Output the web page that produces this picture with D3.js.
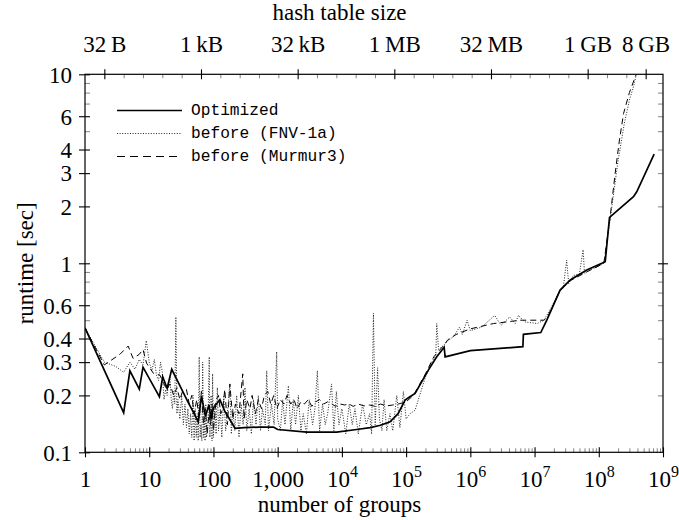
<!DOCTYPE html>
<html><head><meta charset="utf-8">
<script src="https://cdn.jsdelivr.net/npm/d3@7"></script>
<style>
html,body{margin:0;padding:0;background:#fff;}
svg{display:block;}
.serif{font-family:"Liberation Serif","DejaVu Serif",serif;}
.mono{font-family:"Liberation Mono","DejaVu Sans Mono",monospace;}
</style>
</head><body>
<svg id="chart" width="679" height="520"></svg>
<script>
// ---------- DATA ----------
const groupsOptimized = [1, 4, 5, 7, 8, 14.4, 16.2, 19, 22.4, 30, 40, 50, 58, 65, 75, 85, 92, 100, 126, 150, 217, 300, 530, 860, 1000, 2840, 8300, 17000, 27500, 40000, 56300, 75000, 96500, 110000, 138000, 222000, 300000, 391000, 405000, 1000000, 6580000, 6700000, 12500000, 15500000, 25000000, 36000000, 65000000, 126000000, 147000000, 347000000, 390000000, 728000000];
const runtimeOptimized = [0.455, 0.162, 0.27, 0.216, 0.282, 0.197, 0.251, 0.218, 0.275, 0.225, 0.185, 0.16, 0.145, 0.199, 0.155, 0.178, 0.15, 0.172, 0.19, 0.165, 0.134, 0.135, 0.136, 0.136, 0.132, 0.128, 0.128, 0.132, 0.135, 0.139, 0.145, 0.16, 0.189, 0.195, 0.205, 0.272, 0.32, 0.36, 0.32, 0.345, 0.362, 0.421, 0.43, 0.501, 0.722, 0.816, 0.922, 1.02, 1.75, 2.25, 2.39, 3.78];

const groupsFNV = [1, 2, 3, 4, 5, 6, 7, 8, 9, 10, 11, 12, 13, 14, 15, 16, 17, 18, 19, 20, 21, 22, 23, 24, 25, 26, 27, 28, 30, 32, 34, 36, 38, 40, 42, 44, 46, 48, 50, 52, 54, 56, 58, 60, 62, 64, 66, 68, 70, 72, 74, 76, 78, 82, 86, 88, 92, 95, 97, 100, 105, 110, 115, 120, 128, 135, 145, 155, 165, 180, 190, 200, 215, 230, 250, 270, 290, 310, 330, 360, 390, 420, 460, 500, 540, 580, 640, 676, 720, 800, 880, 966, 1000, 1100, 1200, 1300, 1470, 1600, 1750, 1900, 2100, 2300, 2500, 2800, 3100, 3500, 3800, 4150, 4500, 5000, 5500, 6000, 6900, 7500, 8200, 9000, 10000, 11500, 13000, 14500, 16000, 18000, 21000, 24000, 27000, 29000, 31000, 33000, 36000, 38400, 42000, 45400, 50000, 56000, 62000, 71600, 80000, 90800, 100000, 115000, 138000, 170000, 200000, 240000, 290000, 300000, 320000, 390000, 450000, 550000, 680000, 750000, 890000, 1000000, 1500000, 2400000, 3000000, 4100000, 5000000, 5600000, 7000000, 11000000, 14000000, 18000000, 25000000, 28000000, 31600000, 34000000, 40000000, 50000000, 57000000, 60000000, 70000000, 90000000, 120000000, 150000000, 200000000, 250000000, 300000000, 347000000, 390000000];
const runtimeFNV = [0.455, 0.30, 0.285, 0.265, 0.30, 0.275, 0.31, 0.29, 0.39, 0.30, 0.27, 0.31, 0.255, 0.24, 0.30, 0.265, 0.19, 0.215, 0.2, 0.23, 0.25, 0.19, 0.17, 0.21, 0.18, 0.52, 0.16, 0.19, 0.15, 0.2, 0.14, 0.18, 0.135, 0.17, 0.125, 0.16, 0.12, 0.2, 0.115, 0.17, 0.12, 0.16, 0.115, 0.32, 0.12, 0.14, 0.115, 0.3, 0.12, 0.15, 0.115, 0.18, 0.12, 0.14, 0.32, 0.12, 0.2, 0.115, 0.26, 0.12, 0.18, 0.125, 0.22, 0.13, 0.17, 0.12, 0.2, 0.13, 0.16, 0.23, 0.125, 0.17, 0.13, 0.2, 0.12, 0.18, 0.14, 0.22, 0.13, 0.17, 0.125, 0.19, 0.14, 0.2, 0.13, 0.17, 0.14, 0.27, 0.13, 0.18, 0.14, 0.34, 0.15, 0.13, 0.19, 0.14, 0.225, 0.13, 0.19, 0.14, 0.2, 0.13, 0.16, 0.125, 0.19, 0.14, 0.17, 0.27, 0.13, 0.18, 0.14, 0.16, 0.23, 0.13, 0.21, 0.14, 0.17, 0.125, 0.18, 0.14, 0.17, 0.125, 0.18, 0.14, 0.16, 0.125, 0.544, 0.14, 0.28, 0.15, 0.13, 0.19, 0.13, 0.16, 0.13, 0.2, 0.135, 0.21, 0.15, 0.16, 0.167, 0.21, 0.25, 0.29, 0.33, 0.48, 0.35, 0.37, 0.39, 0.41, 0.46, 0.42, 0.5, 0.44, 0.46, 0.53, 0.47, 0.52, 0.48, 0.53, 0.49, 0.48, 0.5, 0.58, 0.72, 0.74, 1.04, 0.78, 0.86, 0.88, 1.18, 0.88, 0.92, 0.95, 1.0, 1.7, 3.5, 5.5, 7.3, 8.6, 10.2];

const groupsMurmur = [1, 2, 3.5, 4.7, 5.6, 7, 8, 9.1, 11.6, 14.7, 16, 18.7, 21, 24, 27, 30, 33, 38, 42, 46, 50, 55, 60, 65, 70, 75, 80, 85, 90, 95, 100, 110, 120, 130, 140, 150, 165, 180, 200, 220, 250, 286, 300, 330, 370, 400, 450, 500, 560, 620, 700, 780, 870, 970, 1100, 1250, 1400, 1600, 1800, 2000, 2300, 2600, 3000, 3400, 3900, 4500, 5200, 6000, 7000, 8000, 9500, 11000, 13000, 15000, 18000, 22000, 27000, 33000, 40000, 50000, 62000, 75000, 90000, 100000, 130000, 200000, 270000, 390000, 450000, 600000, 1000000, 2300000, 6000000, 14000000, 16000000, 25000000, 36000000, 65000000, 120000000, 150000000, 180000000, 210000000, 243000000, 300000000, 370000000, 410000000];
const runtimeMurmur = [0.455, 0.29, 0.33, 0.365, 0.314, 0.33, 0.35, 0.296, 0.262, 0.256, 0.24, 0.215, 0.23, 0.2, 0.22, 0.19, 0.21, 0.215, 0.18, 0.2, 0.16, 0.19, 0.15, 0.21, 0.14, 0.17, 0.125, 0.16, 0.14, 0.18, 0.13, 0.19, 0.2, 0.16, 0.17, 0.215, 0.14, 0.23, 0.15, 0.18, 0.16, 0.26, 0.15, 0.19, 0.17, 0.2, 0.16, 0.19, 0.17, 0.2, 0.21, 0.18, 0.2, 0.17, 0.19, 0.18, 0.2, 0.18, 0.19, 0.17, 0.185, 0.18, 0.19, 0.175, 0.185, 0.19, 0.18, 0.185, 0.18, 0.175, 0.18, 0.178, 0.18, 0.175, 0.18, 0.176, 0.178, 0.175, 0.18, 0.176, 0.178, 0.18, 0.183, 0.185, 0.2, 0.26, 0.32, 0.37, 0.395, 0.42, 0.45, 0.48, 0.5, 0.5, 0.52, 0.72, 0.81, 0.9, 1.0, 1.75, 3.0, 4.5, 6.2, 8.0, 9.7, 10.5];

const xTickValues = [1, 10, 100, 1000, 1e4, 1e5, 1e6, 1e7, 1e8, 1e9];
const xTickBase = ["1", "10", "100", "1,000", "10", "10", "10", "10", "10", "10"];
const xTickExp = ["", "", "", "", "4", "5", "6", "7", "8", "9"];

const topTickBytes = [32, 1024, 32768, 1048576, 33554432, 1073741824, 8589934592];
const topTickLabels = ["32\u2009B", "1\u2009kB", "32\u2009kB", "1\u2009MB", "32\u2009MB", "1\u2009GB", "8\u2009GB"];

const yTickValues = [0.1, 0.2, 0.3, 0.4, 0.6, 1, 2, 3, 4, 6, 10];
const yTickLabels = ["0.1", "0.2", "0.3", "0.4", "0.6", "1", "2", "3", "4", "6", "10"];
const yMinorValues = [0.5, 0.7, 0.8, 0.9, 5, 7, 8, 9];

const seriesNames = ["Optimized", "before (FNV-1a)", "before (Murmur3)"];

// ---------- LAYOUT ----------
const L = 85, R = 663, T = 74.3, B = 452.3;
const svg = d3.select("#chart");
const x = d3.scaleLog().domain([1, 1e9]).range([L, R]);
const xb = d3.scaleLog().domain([16, 16e9]).range([L, R]);
const y = d3.scaleLog().domain([0.1, 10]).range([B, T]);

const fs = 23;

const xMinor = [];
for (let e = 0; e < 9; e++) for (let m = 2; m <= 9; m++) xMinor.push(m * Math.pow(10, e));
const topMinor = [];
for (let p = 5; p <= 33; p++) { const v = Math.pow(2, p); if (!topTickBytes.includes(v)) topMinor.push(v); }

function styleAxis(g) {
  g.select(".domain").remove();
  g.attr("font-family", null).attr("font-size", null);
  g.selectAll("line").attr("stroke", "#000");
}

// bottom minor
svg.append("g").attr("transform", `translate(0,${B})`)
  .call(d3.axisBottom(x).tickValues(xMinor).tickSize(-4).tickFormat(() => ""))
  .call(styleAxis).selectAll("line").attr("stroke", "#777").attr("stroke-width", 0.9);
// bottom major
const gxb = svg.append("g").attr("transform", `translate(0,${B})`)
  .call(d3.axisBottom(x).tickValues(xTickValues).tickSize(5).tickFormat(() => ""))
  .call(styleAxis);
gxb.selectAll(".tick text").remove();
gxb.selectAll(".tick line").attr("y1", -5).attr("y2", 5).attr("stroke-width", 1.1);
gxb.selectAll(".tick").each(function (d, i) {
  const t = d3.select(this).append("text").attr("class", "serif")
    .attr("y", 35).attr("text-anchor", "middle")
    .style("font-size", fs + "px").attr("fill", "#000");
  t.append("tspan").text(xTickBase[i]);
  if (xTickExp[i]) t.append("tspan").attr("dy", -10).style("font-size", "16px").text(xTickExp[i]);
});

// top minor
svg.append("g").attr("transform", `translate(0,${T})`)
  .call(d3.axisTop(xb).tickValues(topMinor.filter(v => xb(v) < R - 2)).tickSize(-4).tickFormat(() => ""))
  .call(styleAxis).selectAll("line").attr("stroke", "#777").attr("stroke-width", 0.9);
// top major
const gxt = svg.append("g").attr("transform", `translate(0,${T})`)
  .call(d3.axisTop(xb).tickValues(topTickBytes).tickSize(5).tickFormat((d, i) => topTickLabels[i]))
  .call(styleAxis);
gxt.selectAll(".tick line").attr("y1", -5).attr("y2", 5).attr("stroke-width", 1.1);
gxt.selectAll(".tick text").attr("class", "serif").attr("y", -22).attr("dy", 0)
  .style("font-size", fs + "px").attr("fill", "#000");

// left minor
svg.append("g").attr("transform", `translate(${L},0)`)
  .call(d3.axisLeft(y).tickValues(yMinorValues).tickSize(-5).tickFormat(() => ""))
  .call(styleAxis).selectAll("line").attr("stroke", "#777").attr("stroke-width", 0.9);
// left major
const gyl = svg.append("g").attr("transform", `translate(${L},0)`)
  .call(d3.axisLeft(y).tickValues(yTickValues).tickSize(5).tickFormat((d, i) => yTickLabels[i]))
  .call(styleAxis);
gyl.selectAll(".tick line").attr("x1", -6).attr("x2", 5).attr("stroke-width", 1.1);
gyl.selectAll(".tick text").attr("class", "serif").attr("x", -13).attr("dy", "0.34em")
  .style("font-size", fs + "px").attr("fill", "#000");

// right ticks (inward, 1 crossing)
svg.append("g").attr("transform", `translate(${R},0)`)
  .call(d3.axisRight(y).tickValues(yMinorValues.concat(yTickValues.filter(v => v !== 1 && v !== 10 && v !== 0.1))).tickSize(-5).tickFormat(() => ""))
  .call(styleAxis).selectAll("line").attr("stroke", "#777").attr("stroke-width", 0.9);
const gyr = svg.append("g").attr("transform", `translate(${R},0)`)
  .call(d3.axisRight(y).tickValues([1]).tickSize(5).tickFormat(() => ""))
  .call(styleAxis);
gyr.selectAll(".tick line").attr("x1", -5).attr("x2", 5).attr("stroke-width", 1.1);

// frame
svg.append("rect").attr("x", L).attr("y", T).attr("width", R - L).attr("height", B - T)
  .attr("fill", "none").attr("stroke", "#000").attr("stroke-width", 1.2);

// axis titles
svg.append("text").attr("class", "serif").attr("x", 339.5).attr("y", 20).attr("text-anchor", "middle")
  .style("font-size", fs + "px").text("hash table size");
svg.append("text").attr("class", "serif").attr("x", 339.5).attr("y", 512).attr("text-anchor", "middle")
  .style("font-size", fs + "px").text("number of groups");
svg.append("text").attr("class", "serif").attr("transform", `translate(33,${(T + B) / 2}) rotate(-90)`).attr("text-anchor", "middle")
  .style("font-size", fs + "px").text("runtime [sec]");

// clip
svg.append("clipPath").attr("id", "clip").append("rect")
  .attr("x", L).attr("y", T).attr("width", R - L).attr("height", B - T);

const line = d3.line().x(d => x(d[0])).y(d => y(d[1]));
const plot = svg.append("g").attr("clip-path", "url(#clip)");

const styles = [
  { w: 1.7, dash: null, color: "#000" },
  { w: 1.0, dash: "1,1.6", color: "#222" },
  { w: 1.0, dash: "6,4", color: "#000" }
];
const seriesData = [
  d3.zip(groupsOptimized, runtimeOptimized),
  d3.zip(groupsFNV, runtimeFNV),
  d3.zip(groupsMurmur, runtimeMurmur)
];
[2, 1, 0].forEach(i => {
  plot.append("path").datum(seriesData[i]).attr("d", line)
    .attr("fill", "none").attr("stroke", styles[i].color)
    .attr("stroke-width", styles[i].w)
    .attr("stroke-dasharray", styles[i].dash)
    .attr("stroke-linejoin", "miter");
});

// legend
const legY = [110.5, 133.5, 156.5];
const leg = svg.append("g");
seriesNames.forEach((n, i) => {
  leg.append("line").attr("x1", 117).attr("x2", 182).attr("y1", legY[i]).attr("y2", legY[i])
    .attr("stroke", styles[i].color).attr("stroke-width", styles[i].w)
    .attr("stroke-dasharray", i === 2 ? "8,5" : styles[i].dash);
  leg.append("text").attr("class", "mono").attr("x", 191).attr("y", legY[i] + 4.5)
    .style("font-size", "16.2px").attr("fill", "#000").text(n);
});
</script>
</body></html>
